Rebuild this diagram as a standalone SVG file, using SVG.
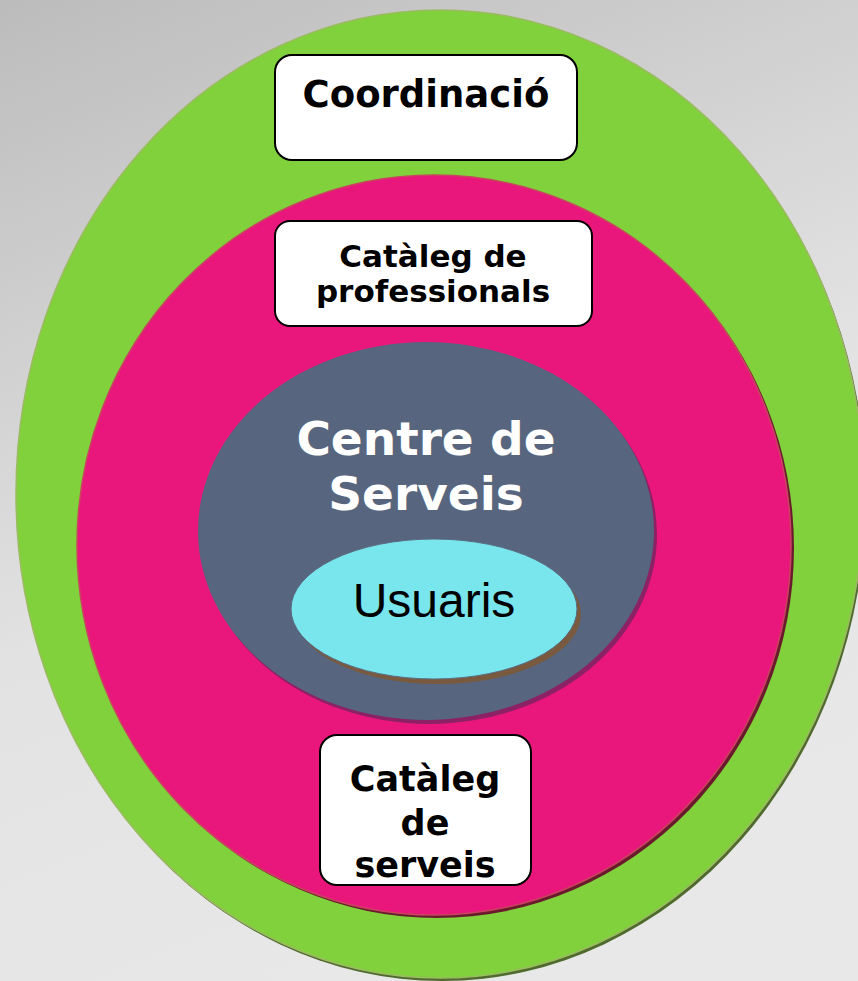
<svg xmlns="http://www.w3.org/2000/svg" width="858" height="981" viewBox="0 0 858 981">
<defs>
<linearGradient id="bg" x1="0" y1="0" x2="0.35" y2="1">
<stop offset="0" stop-color="#bcbcbc"/>
<stop offset="0.6" stop-color="#e2e2e2"/>
<stop offset="1" stop-color="#e8e8e8"/>
</linearGradient>
<style>
.box{fill:#ffffff;stroke:#000000;stroke-width:2}
.lbl{font-family:"DejaVu Sans",Verdana,sans-serif;font-weight:bold;fill:#000000;text-anchor:middle}
.wlbl{font-family:"DejaVu Sans",Verdana,sans-serif;font-weight:bold;fill:#ffffff;text-anchor:middle;font-size:47px}
</style>
</defs>
<rect x="0" y="0" width="858" height="981" fill="url(#bg)"/>
<g id="coordinacio-ring">
<ellipse cx="442" cy="497" rx="424" ry="484" fill="#4e6a2c"/>
<ellipse cx="440" cy="494" rx="424" ry="484" fill="#80d13c" stroke="#9cba62" stroke-width="1.5"/>
</g>
<g id="professionals-ring">
<ellipse cx="437" cy="548" rx="357" ry="370" fill="#6a1a2c"/>
<ellipse cx="434" cy="545" rx="357" ry="370" fill="#e9177b" stroke="#c8445e" stroke-width="1.5"/>
</g>
<g id="centre-serveis">
<ellipse cx="429" cy="535" rx="228" ry="189" fill="#8c2166"/>
<ellipse cx="426" cy="531" rx="228" ry="189" fill="#57667e"/>
<text class="wlbl" x="426" y="455">Centre de</text>
<text class="wlbl" x="426" y="510">Serveis</text>
</g>
<g id="usuaris">
<ellipse cx="438" cy="614" rx="143" ry="70" fill="#7a5a3e"/>
<ellipse cx="434" cy="609" rx="143" ry="70" fill="#79e6ed" stroke="#5a6a80" stroke-width="1"/>
<text x="434" y="617" font-family="'Liberation Sans',Arial,sans-serif" font-size="48" fill="#000000" text-anchor="middle">Usuaris</text>
</g>
<g id="coordinacio">
<rect class="box" x="275" y="55" width="302" height="105" rx="17"/>
<text class="lbl" x="426" y="107" font-size="37">Coordinació</text>
</g>
<g id="cataleg-professionals">
<rect class="box" x="275" y="221" width="317" height="105" rx="15"/>
<text class="lbl" x="433" y="267" font-size="31">Catàleg de</text>
<text class="lbl" x="433" y="302" font-size="31">professionals</text>
</g>
<g id="cataleg-serveis">
<rect class="box" x="320" y="735" width="211" height="150" rx="17"/>
<text class="lbl" x="425" y="791" font-size="35">Catàleg</text>
<text class="lbl" x="425" y="835" font-size="35">de</text>
<text class="lbl" x="425" y="877" font-size="35">serveis</text>
</g>
<g id="connectors"/>
</svg>
